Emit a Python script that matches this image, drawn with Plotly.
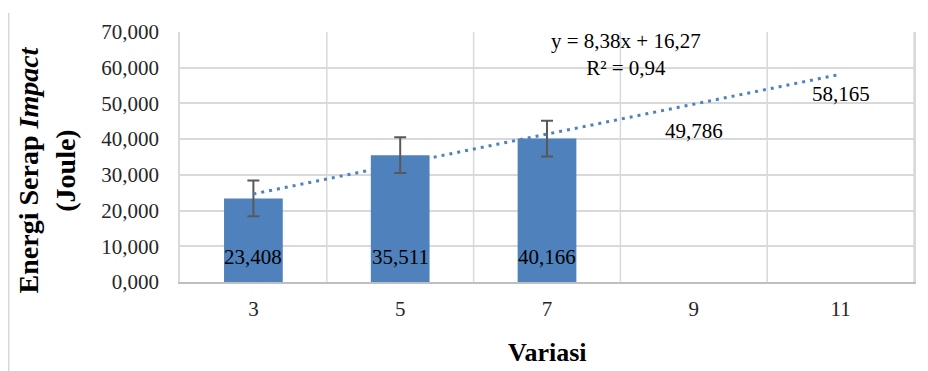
import plotly.graph_objects as go

categories = ["3", "5", "7", "9", "11"]
bar_x = ["3", "5", "7"]
bar_values = [23.408, 35.511, 40.166]
error_values = [5.0, 5.0, 5.0]
trend_values = [24.65, 33.03, 41.41, 49.786, 58.165]
pred_x = ["9", "11"]
pred_values = [49.786, 58.165]
pred_label_shift = [-27, -20]
y_ticks = [0, 10, 20, 30, 40, 50, 60, 70]

FONT = "Liberation Serif"
BLUE = "#4F81BD"


def fmt(v):
    return f"{v:.3f}".replace(".", ",")


fig = go.Figure()

fig.add_trace(go.Bar(
    x=bar_x, y=bar_values, width=0.4,
    marker=dict(color=BLUE, line=dict(width=0)),
    error_y=dict(type="data", array=error_values, visible=True,
                 color="#595959", thickness=2, width=6),
    showlegend=False,
))

fig.add_trace(go.Scatter(
    x=categories, y=trend_values, mode="lines",
    line=dict(color=BLUE, width=3, dash="3px,5px"),
    showlegend=False,
))

# data labels at the inside base of each bar
bar_annotations = [
    dict(text=fmt(v), x=categories.index(x), y=0, xref="x", yref="y", yshift=25,
         xanchor="center", yanchor="middle", showarrow=False,
         font=dict(family=FONT, size=21, color="#000000"))
    for x, v in zip(bar_x, bar_values)
]

pred_annotations = [
    dict(text=fmt(v), x=categories.index(x), y=v, xref="x", yref="y", yshift=s,
         xanchor="center", yanchor="middle", showarrow=False,
         font=dict(family=FONT, size=21, color="#000000"))
    for x, v, s in zip(pred_x, pred_values, pred_label_shift)
]

# page body adds an 8px margin, so the figure is 8px smaller than the window
fig.update_layout(
    width=920, height=363,
    margin=dict(l=172, r=14, t=24, b=89),
    paper_bgcolor="white", plot_bgcolor="white",
    separators=",.",
    font=dict(family=FONT, size=21, color="#262626"),
    xaxis=dict(
        type="category", categoryorder="array", categoryarray=categories,
        range=[-0.5, len(categories) - 0.5], autorange=False,
        showgrid=False,
        showline=True, linecolor="#bfbfbf", linewidth=1.5, mirror=False,
        ticks="", ticklabelstandoff=7,
        tickfont=dict(family=FONT, size=21, color="#262626"),
    ),
    yaxis=dict(
        range=[0, 70], tickvals=y_ticks, tickformat=".3f",
        showgrid=True, gridcolor="#d9d9d9", gridwidth=1.5,
        showline=True, linecolor="#d9d9d9", linewidth=1.5, mirror=True,
        zeroline=False, ticks="", ticklabelstandoff=15,
        tickfont=dict(family=FONT, size=21, color="#262626"),
    ),
    shapes=[
        *[dict(type="line", xref="x", yref="paper", x0=i + 0.5, x1=i + 0.5,
               y0=0, y1=1, line=dict(color="#d9d9d9", width=1.5), layer="below")
          for i in range(len(categories) - 1)],
        dict(type="line", xref="paper", yref="paper", x0=1, x1=1, y0=0, y1=1,
             line=dict(color="#d9d9d9", width=1.5)),
        dict(type="line", xref="paper", yref="paper", x0=-0.2333, x1=-0.2333,
             y0=-0.356, y1=1.076, line=dict(color="#d9d9d9", width=1.5),
             layer="below"),
    ],
    annotations=[
        dict(text="<b>Energi Serap <i>Impact</i></b><br><b>(Joule)</b>",
             xref="paper", yref="paper", x=-0.182, y=0.448,
             xanchor="center", yanchor="middle", textangle=-90, showarrow=False,
             font=dict(family=FONT, size=28, color="#000000")),
        dict(text="<b>Variasi</b>", xref="paper", yref="paper", x=0.5, y=-0.28,
             xanchor="center", yanchor="middle", showarrow=False,
             font=dict(family=FONT, size=26, color="#000000")),
        dict(text="y = 8,38x + 16,27<br>R² = 0,94", xref="paper", yref="paper",
             x=0.6076, y=0.91, xanchor="center", yanchor="middle", showarrow=False,
             font=dict(family=FONT, size=21, color="#000000")),
        *bar_annotations,
        *pred_annotations,
    ],
)

fig.write_html("out.html")
